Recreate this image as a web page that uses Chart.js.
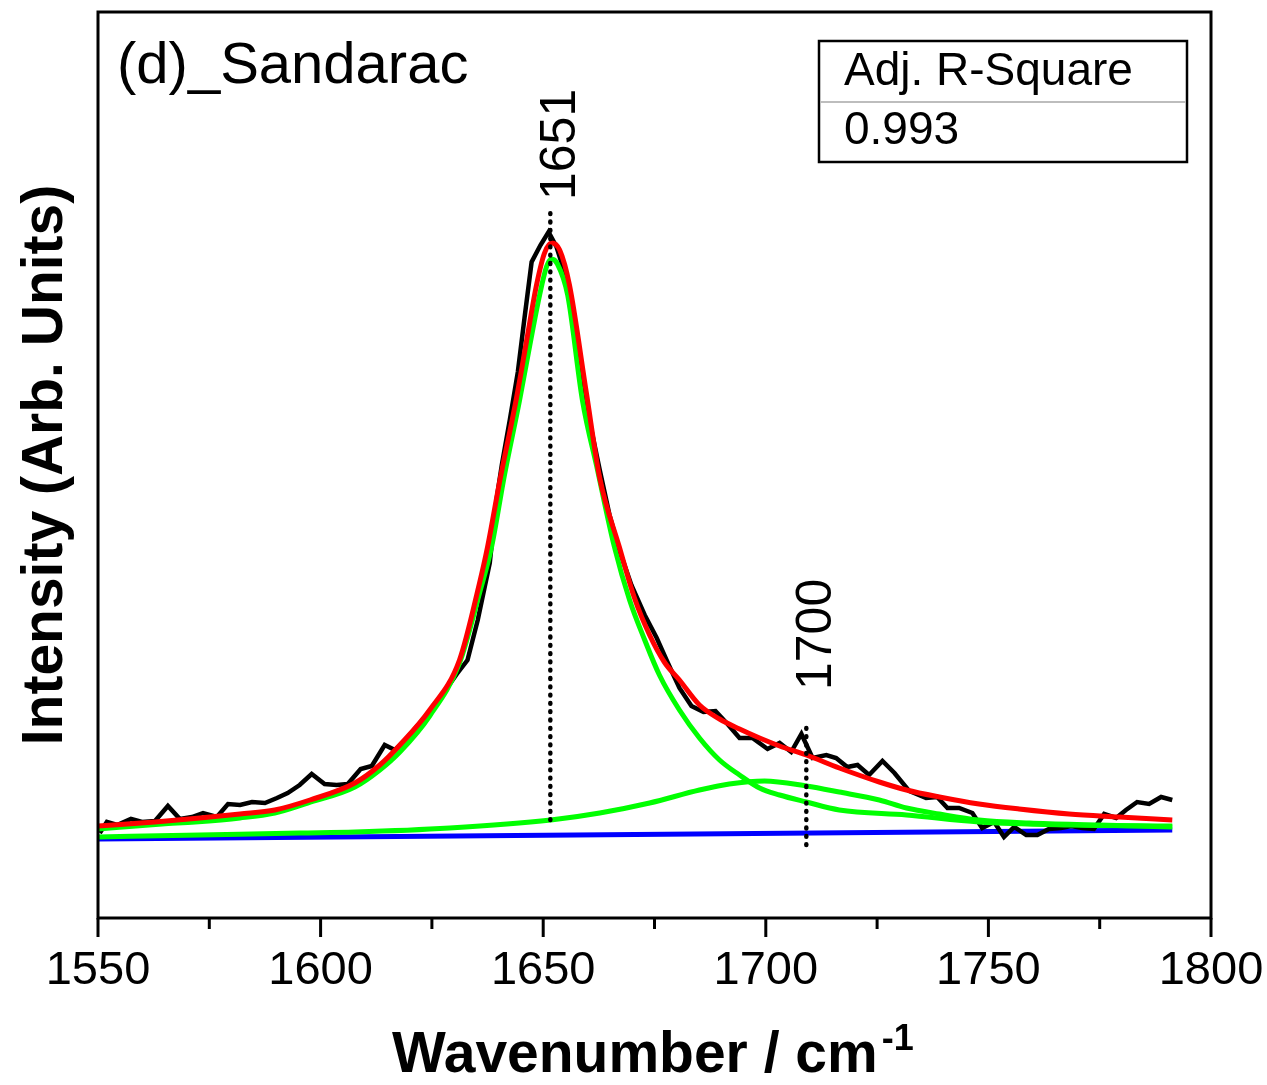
<!DOCTYPE html>
<html><head><meta charset="utf-8">
<script src="https://cdn.jsdelivr.net/npm/chart.js@4.4.1/dist/chart.umd.min.js"></script>
<style>html,body{margin:0;padding:0;background:#fff;}#wrap{width:1267px;height:1085px;}</style>
</head><body><div id="wrap"><canvas id="c" width="1267" height="1085"></canvas></div>
<script>
// Measured spectrum (black)
const dataWavenumber = [
 1550.4,1552.0,1554.3,1557.4,1559.9,1562.8,1565.7,1568.4,1571.1,1573.6,
 1576.7,1579.2,1581.9,1584.6,1587.5,1590.2,1592.6,1595.3,1598.0,1600.9,
 1603.6,1606.1,1609.0,1611.5,1614.4,1616.7,1619.6,1622.3,1625.2,1628.1,
 1630.6,1633.0,1635.3,1638.0,1639.5,1640.7,1642.5,1644.3,1645.8,1647.4,
 1649.4,1651.2,1653.0,1655.0,1656.8,1658.6,1660.6,1662.7,1664.9,1667.1,
 1669.8,1672.8,1675.5,1677.9,1680.6,1683.3,1686.0,1688.7,1691.4,1694.1,
 1697.0,1700.4,1703.1,1705.7,1708.0,1710.5,1713.6,1715.8,1718.3,1720.6,
 1723.2,1726.2,1728.9,1732.2,1736.0,1738.5,1740.8,1743.4,1746.4,1748.6,
 1751.3,1753.5,1755.8,1758.5,1761.0,1763.6,1766.3,1768.6,1771.1,1773.7,
 1776.0,1778.7,1780.9,1783.4,1786.1,1788.8,1791.3];
const dataIntensity = [
 85,96,93,99,96,97,112,99,101,105,
 101,114,113,116,115,120,125,133,144,134,
 133,134,149,152,173,168,181,195,210,228,
 244,258,298,355,418,453,498,546,600,656,
 673,686,671,643,600,548,493,448,403,368,
 333,303,280,256,230,212,206,207,194,180,
 180,169,175,166,184,160,163,160,151,153,
 143,157,145,127,120,121,110,110,105,90,
 96,81,91,83,83,89,90,92,90,89,
 104,100,108,116,114,121,118];

// Cumulative fit (red)
const fitWavenumber = [1550.0,1562.8,1572.9,1581.9,1589.7,1597.6,1607.7,1613.3,1617.8,1624.5,1631.2,1635.7,1637.5,1640.2,1644.0,1646.3,1648.5,1650.3,1651.9,1653.7,1655.9,1659.7,1662.7,1667.1,1670.5,1673.9,1677.2,1680.6,1685.1,1689.6,1694.1,1698.6,1703.1,1709.1,1716.5,1725.5,1731.6,1739.0,1747.9,1756.9,1768.1,1779.4,1791.3];
const fitIntensity   = [92,96,100,104,108,118,135,153,173,208,258,335,371,436,520,578,633,665,675,668,633,525,440,371,320,283,256,238,213,199,189,180,172,163,150,136,128,121,114,109,104,101,98];

// Peak 1 component (green)
const peak1Wavenumber = [1550.0,1564.4,1571.8,1581.9,1589.7,1597.1,1607.7,1613.3,1617.8,1624.5,1631.2,1635.7,1638.4,1641.3,1644.7,1647.0,1649.2,1650.8,1651.9,1653.2,1655.5,1658.8,1662.2,1666.0,1669.4,1672.8,1676.1,1680.6,1685.1,1689.6,1694.1,1698.6,1703.1,1709.1,1716.5,1731.6,1747.9,1768.1,1791.3];
const peak1Intensity   = [89,94,96,100,105,115,131,148,166,202,255,325,371,443,518,573,623,652,659,654,623,518,448,371,318,278,243,208,180,158,143,130,123,116,108,103,96,93,92];

// Peak 2 component (green)
const peak2Wavenumber = [1550.0,1572.9,1595.3,1607.7,1629.0,1651.7,1662.7,1673.9,1685.1,1691.8,1699.7,1709.1,1716.5,1725.5,1731.6,1739.0,1747.9,1759.2,1774.9,1791.3];
const peak2Intensity   = [81,83,85,86,90,98,105,115,128,134,137,132,126,118,110,104,98,95,93,91];

// Baseline (blue)
const baselineWavenumber = [1550.0,1791.3];
const baselineIntensity  = [79,88];

// Peak markers (dotted) and their labels
const markerWavenumber = [1651.6,1709.1];
const markerTop        = [708,196];
const markerBottom     = [98,73];
const markerLabel      = ['1651','1700'];
const markerLabelStart = [718,228];

const xMajorTicks = [1550,1600,1650,1700,1750,1800];
const xMinorTicks = [1575,1625,1675,1725,1775];

const panelTitle = '(d)_Sandarac';
const statHeader = 'Adj. R-Square';
const statValue  = '0.993';

function pairs(xs, ys){ return xs.map((x,i)=>({x:x, y:ys[i]})); }

const FONT = '"Liberation Sans", Arial, Helvetica, sans-serif';

const datasets = [
  {label:'Fit', data:pairs(fitWavenumber,fitIntensity), borderColor:'#ff0000', borderWidth:5, order:1, cubicInterpolationMode:'monotone'},
  {label:'Peak1', data:pairs(peak1Wavenumber,peak1Intensity), borderColor:'#00ff00', borderWidth:5, order:2, cubicInterpolationMode:'monotone'},
  {label:'Peak2', data:pairs(peak2Wavenumber,peak2Intensity), borderColor:'#00ff00', borderWidth:5, order:3, cubicInterpolationMode:'monotone'},
  {label:'Data', data:pairs(dataWavenumber,dataIntensity), borderColor:'#000000', borderWidth:4.5, order:4, tension:0},
  {label:'Baseline', data:pairs(baselineWavenumber,baselineIntensity), borderColor:'#0000ff', borderWidth:5, order:5, tension:0}
];
markerWavenumber.forEach((w,i)=>{
  datasets.push({label:'m'+i, data:[{x:w,y:markerBottom[i]},{x:w,y:markerTop[i]}],
    borderColor:'#000', borderWidth:4.5, borderDash:[0.8,7.5], borderCapStyle:'round', order:0, tension:0});
});
datasets.forEach(d=>{ d.showLine=true; d.pointRadius=0; d.fill=false; d.pointHoverRadius=0; });

const decor = {
  id:'decor',
  afterDraw(chart){
    const {ctx, chartArea:a, scales:{x,y}} = chart;
    ctx.save();
    ctx.fillStyle='#000'; ctx.strokeStyle='#000';
    // frame
    ctx.lineWidth=3;
    ctx.strokeRect(a.left, a.top, a.right-a.left, a.bottom-a.top);
    // ticks
    ctx.lineWidth=3; ctx.lineCap='butt';
    xMajorTicks.forEach(v=>{const p=x.getPixelForValue(v); ctx.beginPath(); ctx.moveTo(p,a.bottom); ctx.lineTo(p,a.bottom+19); ctx.stroke();});
    xMinorTicks.forEach(v=>{const p=x.getPixelForValue(v); ctx.beginPath(); ctx.moveTo(p,a.bottom); ctx.lineTo(p,a.bottom+11); ctx.stroke();});
    // panel title
    ctx.font='58px '+FONT; ctx.textAlign='left'; ctx.textBaseline='alphabetic';
    ctx.fillText(panelTitle, a.left+19, 83);
    // stats box
    ctx.lineWidth=2.5;
    ctx.strokeRect(819, 41, 368, 121);
    ctx.strokeStyle='#bdbdbd'; ctx.lineWidth=2;
    ctx.beginPath(); ctx.moveTo(820,102); ctx.lineTo(1186,102); ctx.stroke();
    ctx.font='46px '+FONT;
    ctx.fillText(statHeader, 844, 85);
    ctx.fillText(statValue, 844, 144);
    // marker labels
    ctx.font='50px '+FONT;
    markerWavenumber.forEach((w,i)=>{
      const px=x.getPixelForValue(w), py=y.getPixelForValue(markerLabelStart[i]);
      ctx.save(); ctx.translate(px+25, py); ctx.rotate(-Math.PI/2);
      ctx.textAlign='left'; ctx.fillText(markerLabel[i],0,0); ctx.restore();
    });
    // axis titles
    ctx.font='bold 57px '+FONT;
    const main='Wavenumber / cm', sup='-1';
    const wMain=ctx.measureText(main).width;
    const x0=392;
    ctx.textAlign='left';
    ctx.fillText(main, x0, 1072);
    ctx.font='bold 36px '+FONT;
    ctx.fillText(sup, x0+wMain+4, 1050);
    ctx.font='bold 57px '+FONT;
    ctx.save(); ctx.translate(62,465); ctx.rotate(-Math.PI/2);
    ctx.textAlign='center'; ctx.fillText('Intensity (Arb. Units)',0,0); ctx.restore();
    ctx.restore();
  }
};

new Chart(document.getElementById('c'), {
  type:'scatter',
  data:{datasets},
  options:{
    responsive:false, animation:false, devicePixelRatio:1,
    layout:{padding:{left:98, right:56, top:12, bottom:0}},
    plugins:{legend:{display:false}, tooltip:{enabled:false}},
    scales:{
      x:{type:'linear', min:1550, max:1800,
         afterBuildTicks:(s)=>{ s.ticks = xMajorTicks.map(v=>({value:v})); },
         afterFit:(s)=>{ s.height=167; s.paddingRight=0; s.paddingLeft=0; },
         grid:{display:false, drawTicks:false}, border:{display:false},
         ticks:{color:'#000', font:{family:FONT, size:47}, padding:25, maxRotation:0, autoSkip:false,
                callback:(v)=>String(v)}},
      y:{type:'linear', min:0, max:906, display:false}
    }
  },
  plugins:[decor]
});
</script></body></html>
